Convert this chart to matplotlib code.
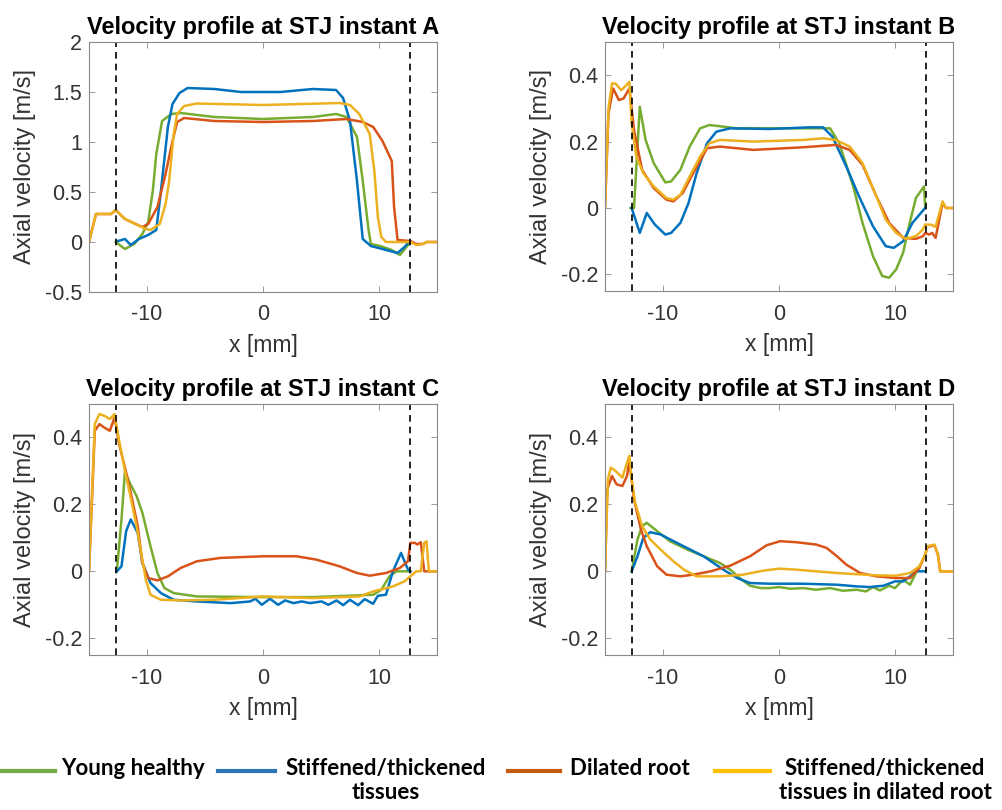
import matplotlib
matplotlib.use("Agg")
import matplotlib.pyplot as plt
from matplotlib.lines import Line2D
from matplotlib.ticker import FormatStrFormatter

plt.rcParams['font.family'] = ['Liberation Sans', 'DejaVu Sans']
plt.rcParams['axes.unicode_minus'] = False

# --- data ---
labels = ["Young healthy", "Stiffened/thickened\ntissues", "Dilated root",
          "Stiffened/thickened\ntissues in dilated root"]
stj_x = [-12.7, 12.65]

# instant A
xa_young = [-12.7, -11.9, -11.1, -10.4, -9.9, -9.5, -9.2, -8.7, -7.9, -7.1, -4.2, 0, 4.3, 6.3, 7.2, 8.1, 8.6, 9.1, 9.3, 10.1, 11.1, 11.8, 12.5, 12.7]
ya_young = [0.0, -0.07, -0.02, 0.08, 0.2, 0.51, 0.88, 1.21, 1.28, 1.29, 1.25, 1.23, 1.25, 1.28, 1.25, 1.05, 0.61, 0.12, -0.02, -0.04, -0.08, -0.13, -0.03, 0.0]
xa_stiff = [-12.5, -11.9, -11.4, -10.7, -9.9, -9.2, -8.8, -8.2, -7.8, -7.2, -6.5, -4.2, -1.9, 1.5, 4.3, 6.3, 6.9, 7.5, 8.1, 8.6, 9.3, 10.3, 11.6, 12.2, 12.6]
ya_stiff = [0.01, 0.03, -0.03, 0.03, 0.07, 0.12, 0.51, 1.15, 1.38, 1.49, 1.54, 1.53, 1.5, 1.5, 1.53, 1.52, 1.44, 1.21, 0.61, 0.03, -0.04, -0.07, -0.11, -0.05, 0.0]
xa_dil = [-15, -14.4, -13.1, -12.7, -11.9, -10.8, -10.4, -9.9, -9.1, -8.4, -7.8, -7.4, -6.8, -4.2, 0, 4.3, 7.2, 8.6, 9.5, 10.3, 11.1, 11.3, 11.6, 12.7, 13.2, 13.8, 14.1, 15]
ya_dil = [0, 0.28, 0.28, 0.32, 0.23, 0.17, 0.15, 0.18, 0.35, 0.68, 1.01, 1.2, 1.24, 1.21, 1.2, 1.21, 1.23, 1.2, 1.15, 1.01, 0.81, 0.35, 0.02, 0.01, -0.02, -0.02, 0, 0]
xa_combo = [-15, -14.4, -13.1, -12.7, -11.9, -10.8, -10.1, -9.7, -8.9, -8.4, -8.1, -7.7, -7.4, -6.8, -5.7, 0, 6.6, 7.5, 8.3, 9.2, 9.6, 9.9, 10.2, 10.6, 12.7, 13.2, 13.8, 14.1, 15]
ya_combo = [0, 0.28, 0.28, 0.32, 0.23, 0.17, 0.13, 0.12, 0.18, 0.38, 0.6, 1.08, 1.28, 1.36, 1.385, 1.37, 1.39, 1.37, 1.28, 1.08, 0.71, 0.25, 0.05, 0.0, 0.0, -0.03, -0.02, 0.0, 0.0]

# instant B
xb_young = [-12.8, -12.5, -12.0, -11.5, -10.8, -9.8, -9.3, -8.5, -7.7, -6.8, -6.0, -4.8, -3.7, 2.1, 4.4, 5.2, 6.4, 7.2, 8.1, 8.9, 9.5, 10.1, 10.7, 11.2, 11.8, 12.5, 12.6]
yb_young = [0, 0, 0.305, 0.205, 0.135, 0.077, 0.08, 0.115, 0.185, 0.24, 0.25, 0.245, 0.24, 0.24, 0.24, 0.195, 0.065, -0.045, -0.145, -0.205, -0.21, -0.185, -0.135, -0.055, 0.03, 0.065, 0.005]
xb_stiff = [-12.7, -12.0, -11.4, -10.7, -9.8, -9.3, -8.5, -7.8, -7.1, -6.2, -5.4, -4.2, -0.8, 2.6, 3.8, 4.6, 5.8, 6.9, 8.1, 9.2, 9.9, 10.7, 11.5, 12.6]
yb_stiff = [0, -0.075, -0.015, -0.05, -0.08, -0.075, -0.045, 0.015, 0.105, 0.195, 0.23, 0.24, 0.238, 0.243, 0.243, 0.215, 0.125, 0.035, -0.055, -0.115, -0.12, -0.1, -0.045, 0]
xb_dil = [-15, -14.7, -14.3, -13.8, -13.4, -12.9, -12.5, -11.8, -10.8, -9.7, -9.1, -8.3, -7.4, -6.2, -5.1, -2.2, 2.1, 4.9, 6.1, 7.2, 8.4, 9.5, 10.7, 11.8, 12.4, 12.6, 12.95, 13.2, 13.5, 14.1, 14.4, 15]
yb_dil = [0, 0.285, 0.36, 0.325, 0.33, 0.36, 0.235, 0.115, 0.06, 0.025, 0.02, 0.045, 0.105, 0.18, 0.185, 0.175, 0.183, 0.19, 0.175, 0.13, 0.035, -0.045, -0.09, -0.093, -0.085, -0.075, -0.08, -0.075, -0.09, 0.015, 0, 0]
xb_combo = [-15, -14.7, -14.4, -14.1, -13.6, -13.3, -12.9, -12.7, -12.3, -11.7, -10.8, -9.7, -9.1, -8.5, -7.7, -6.8, -6.0, -5.1, -2.2, 2.1, 3.8, 4.9, 6.1, 7.2, 8.4, 9.2, 10.1, 10.9, 11.8, 12.4, 12.6, 13.1, 13.5, 14.1, 14.4, 15]
yb_combo = [0, 0.3, 0.375, 0.375, 0.355, 0.365, 0.38, 0.255, 0.155, 0.105, 0.065, 0.03, 0.025, 0.04, 0.095, 0.155, 0.195, 0.205, 0.2, 0.205, 0.21, 0.205, 0.185, 0.135, 0.035, -0.035, -0.075, -0.093, -0.085, -0.065, -0.05, -0.05, -0.057, 0.02, 0, 0]

# instant C
xc_young = [-12.6, -12.2, -11.9, -11.5, -10.9, -10.4, -9.7, -9.1, -8.5, -7.7, -5.7, 0, 4.3, 9.5, 10.2, 10.9, 11.5, 12.7]
yc_young = [0, 0.155, 0.3, 0.265, 0.225, 0.175, 0.075, -0.005, -0.05, -0.065, -0.075, -0.077, -0.077, -0.07, -0.055, -0.015, 0, 0]
xc_stiff = [-12.6, -12.2, -11.8, -11.4, -10.8, -10.4, -9.7, -8.8, -7.7, -5.7, -2.8, -1.1, -0.66, -0.1, 0.6, 1.3, 1.91, 2.63, 3.34, 4.06, 5.06, 5.63, 6.34, 6.91, 7.49, 8.2, 8.77, 9.49, 9.9, 10.6, 11.2, 11.9, 12.5, 12.7]
yc_stiff = [0, 0.015, 0.12, 0.155, 0.115, 0.025, -0.035, -0.065, -0.085, -0.09, -0.095, -0.09, -0.082, -0.1, -0.082, -0.1, -0.087, -0.095, -0.09, -0.095, -0.09, -0.1, -0.087, -0.101, -0.085, -0.101, -0.083, -0.097, -0.073, -0.07, 0, 0.055, 0.005, 0]
xc_dil = [-15, -14.5, -14.1, -13.7, -13.2, -12.8, -12.4, -11.9, -11.4, -10.8, -10.4, -9.9, -9.1, -8.2, -7.1, -5.7, -3.7, 0, 2.9, 4.6, 6.6, 8.1, 9.2, 10.6, 11.8, 12.5, 12.7, 13.1, 13.3, 13.6, 13.9, 15]
yc_dil = [0, 0.42, 0.44, 0.43, 0.42, 0.46, 0.38, 0.31, 0.235, 0.135, 0.025, -0.02, -0.027, -0.015, 0.01, 0.03, 0.04, 0.045, 0.045, 0.035, 0.015, -0.005, -0.013, -0.005, 0.01, 0.03, 0.085, 0.085, 0.08, 0.087, 0, 0]
xc_combo = [-15, -14.5, -14.1, -13.7, -13.2, -12.8, -12.4, -11.9, -11.4, -10.9, -10.5, -10.1, -9.7, -8.8, -7.1, -4.2, 0, 4.3, 8.3, 9.5, 11.2, 12.2, 12.7, 13.2, 13.6, 13.9, 14.1, 14.3, 15]
yc_combo = [0, 0.44, 0.47, 0.465, 0.455, 0.47, 0.39, 0.3, 0.22, 0.135, 0.055, -0.025, -0.07, -0.085, -0.087, -0.085, -0.075, -0.08, -0.075, -0.06, -0.045, -0.03, -0.015, 0, 0, 0.085, 0.09, 0, 0]

# instant D
xd_young = [-12.7, -12.2, -11.8, -11.4, -10.5, -9.4, -7.9, -6.5, -5.1, -4.2, -3.4, -2.5, -1.6, -0.8, 0, 1.0, 2.1, 3.2, 4.4, 5.5, 6.7, 7.5, 8.1, 8.7, 9.5, 10.0, 10.7, 11.3, 11.8, 12.1]
yd_young = [0, 0.095, 0.135, 0.145, 0.12, 0.09, 0.065, 0.045, 0.025, 0.005, -0.02, -0.043, -0.05, -0.05, -0.047, -0.052, -0.05, -0.055, -0.05, -0.058, -0.055, -0.06, -0.047, -0.057, -0.043, -0.05, -0.025, -0.04, -0.005, 0.015]
xd_stiff = [-12.7, -12.2, -11.7, -11.1, -10.2, -8.8, -6.5, -4.8, -3.6, -2.5, -0.8, 2.1, 5.0, 6.7, 7.8, 9.0, 10.0, 10.7, 11.3, 11.8, 12.6]
yd_stiff = [0, 0.045, 0.1, 0.117, 0.11, 0.085, 0.045, 0.005, -0.02, -0.035, -0.037, -0.037, -0.04, -0.045, -0.047, -0.043, -0.03, -0.03, -0.015, 0, 0]
xd_dil = [-15, -14.8, -14.4, -14.0, -13.5, -13.1, -12.9, -12.5, -11.9, -11.4, -10.5, -9.7, -8.5, -7.4, -5.9, -4.2, -2.5, -1.06, 0.1, 1.5, 3.2, 4.1, 5.0, 5.8, 7.0, 8.4, 10.1, 11.3, 12.1, 12.6, 12.8, 13.4, 13.7, 13.9, 15]
yd_dil = [0, 0.245, 0.285, 0.26, 0.255, 0.285, 0.33, 0.215, 0.125, 0.075, 0.015, -0.01, -0.015, -0.01, 0, 0.017, 0.045, 0.078, 0.09, 0.087, 0.08, 0.07, 0.045, 0.02, -0.005, -0.015, -0.02, -0.02, 0.01, 0.05, 0.072, 0.078, 0.05, 0, 0]
xd_combo = [-15, -14.75, -14.5, -14.1, -13.5, -13.1, -12.9, -12.7, -12.4, -11.8, -11.1, -9.9, -9.1, -8.2, -7.1, -5.1, -3.1, -1.35, 0, 1.5, 5.0, 8.4, 10.1, 11.3, 12.1, 12.6, 12.8, 13.4, 13.7, 13.9, 15]
yd_combo = [0, 0.275, 0.31, 0.3, 0.28, 0.325, 0.345, 0.275, 0.205, 0.135, 0.095, 0.055, 0.03, 0.005, -0.015, -0.015, -0.01, 0.002, 0.008, 0.005, -0.005, -0.012, -0.013, -0.005, 0.015, 0.05, 0.075, 0.08, 0.05, 0, 0]

# MATLAB default colours for the curves, Office colours for the legend
line_colors = ['#77AC30', '#0072BD', '#D95319', '#EDB120']
legend_colors = ['#70AD47', '#2E75B6', '#C55A11', '#FFC000']

panels = [
    ("A", [(xa_young, ya_young), (xa_stiff, ya_stiff), (xa_dil, ya_dil), (xa_combo, ya_combo)],
     (-0.5, 2), [-0.5, 0, 0.5, 1, 1.5, 2]),
    ("B", [(xb_young, yb_young), (xb_stiff, yb_stiff), (xb_dil, yb_dil), (xb_combo, yb_combo)],
     (-0.25, 0.5), [-0.2, 0, 0.2, 0.4]),
    ("C", [(xc_young, yc_young), (xc_stiff, yc_stiff), (xc_dil, yc_dil), (xc_combo, yc_combo)],
     (-0.25, 0.5), [-0.2, 0, 0.2, 0.4]),
    ("D", [(xd_young, yd_young), (xd_stiff, yd_stiff), (xd_dil, yd_dil), (xd_combo, yd_combo)],
     (-0.25, 0.5), [-0.2, 0, 0.2, 0.4]),
]

W, H = 1002, 810
fig = plt.figure(figsize=(W / 100, H / 100), dpi=100)

# axes boxes in pixels: left, top, right, bottom
boxes = [(89, 42, 437, 292), (605, 42, 953, 291), (89, 404, 437, 655), (605, 404, 953, 655)]

for (name, series, ylim, yticks), (l, t, r, b) in zip(panels, boxes):
    ax = fig.add_axes([l / W, 1 - b / H, (r - l) / W, (b - t) / H])
    for (xs, ys), c in zip(series, line_colors):
        ax.plot(xs, ys, color=c, linewidth=1.8)
    for xv in stj_x:
        ax.axvline(xv, color='black', linestyle='--', linewidth=1.2, dashes=(4, 3))
    ax.set_xlim(-15, 15)
    ax.set_ylim(*ylim)
    ax.set_xticks([-10, 0, 10])
    ax.set_yticks(yticks)
    ax.yaxis.set_major_formatter(FormatStrFormatter('%g'))
    ax.tick_params(direction='in', top=True, right=True, length=4, width=0.6,
                   colors='#8a8a8a', labelcolor='#333333', labelsize=15.5)
    ax.tick_params(axis='x', pad=9)
    ax.tick_params(axis='y', pad=5)
    for s in ax.spines.values():
        s.set_color('#8a8a8a')
        s.set_linewidth(0.8)
    ax.set_title("Velocity profile at STJ instant " + name, fontsize=17,
                 fontweight='bold', pad=6)
    ax.set_xlabel("x [mm]", fontsize=16.5, color='#333333', labelpad=6)
    ax.set_ylabel("Axial velocity [m/s]", fontsize=17, color='#333333', labelpad=6)

# legend drawn underneath, like the composed figure
leg_font = dict(fontsize=16, fontweight='bold', family=['Lato', 'DejaVu Sans'], color='black')
line_spans = [(0, 55), (218, 275), (508, 560), (715, 770)]
text_pos = [133, 386, 630, 885]
for (x0, x1), tx, c, lab in zip(line_spans, text_pos, legend_colors, labels):
    fig.add_artist(Line2D([x0 / W, x1 / W], [1 - 771 / H, 1 - 771 / H], color=c, linewidth=3))
    fig.text(tx / W, 1 - 758 / H, lab, ha='center', va='top', linespacing=1.2, **leg_font)

fig.savefig("out.png", dpi=100)
